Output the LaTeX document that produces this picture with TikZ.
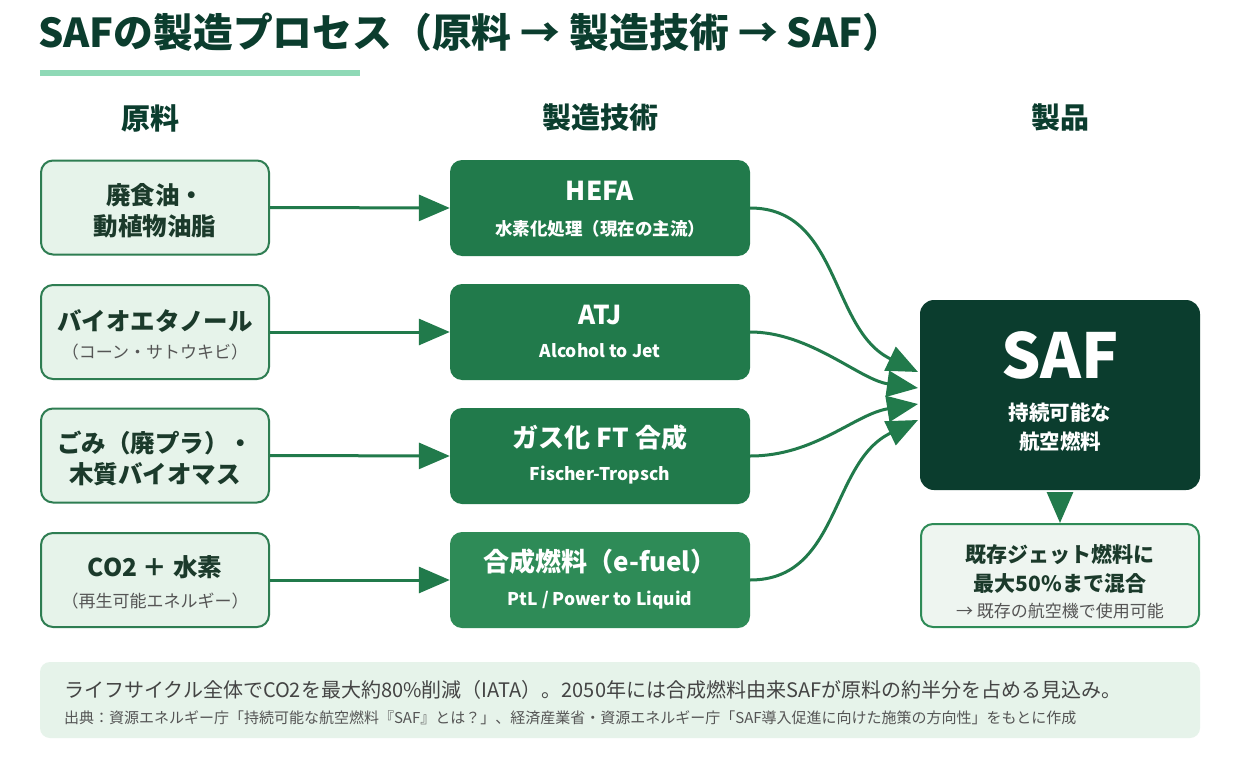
\documentclass[tikz,border=0pt]{standalone}
\usepackage{fontspec}
\setmainfont{Noto Sans CJK JP}
\usetikzlibrary{arrows.meta}
\definecolor{cdark}{HTML}{0B3D2E}
\definecolor{cmid}{HTML}{217A4B}
\definecolor{cmid2}{HTML}{2E8B57}
\definecolor{cborder}{HTML}{2E7D52}
\definecolor{clight}{HTML}{E6F3EA}
\definecolor{clight2}{HTML}{EEF5F0}
\definecolor{cline}{HTML}{8FD9B6}
\definecolor{ctext}{HTML}{1B3A2B}
\definecolor{cgray}{HTML}{555555}
\definecolor{cnote}{HTML}{444444}
\newcommand\myfs[1]{\fontsize{#1}{#1}\selectfont}
\tikzset{
  srcbox/.style={draw=cborder, line width=2pt, fill=clight, rounded corners=12pt,
    minimum width=228pt, minimum height=94pt, inner sep=0pt},
  techbox/.style={fill=cmid, rounded corners=12pt, minimum width=300pt, minimum height=96pt, inner sep=0pt},
  txt/.style={inner sep=0pt, outer sep=0pt, anchor=center},
  srcmain/.style={txt, text=ctext, font=\myfs{24.5}\bfseries},
  srcsub/.style={txt, text=cgray, font=\myfs{17}},
  techmain/.style={txt, text=white, font=\myfs{26}\bfseries},
  techsub/.style={txt, text=white, font=\myfs{17.5}\bfseries},
  flow/.style={draw=cmid, line width=3pt, -{Triangle[length=31pt,width=26pt]}},
  header/.style={txt, text=cdark, font=\myfs{29}\bfseries},
}
\begin{document}
\begin{tikzpicture}[x=1pt,y=-1pt]
\useasboundingbox[fill=white] (0,0) rectangle (1240,760);

% title
\node[txt, anchor=west, text=cdark, font=\myfs{39.8}\bfseries] (title) at (38,32) {SAFの製造プロセス（原料 → 製造技術 → SAF）};
\fill[cline] (40,70) rectangle (360,76);

% headers
\node[header] (h1) at (150,118) {原料};
\node[header] (h2) at (600,118) {製造技術};
\node[header] (h3) at (1060,118) {製品};

% source boxes
\node[srcbox] (s1) at (155,207.5) {};
\node[srcbox] (s2) at (155,332) {};
\node[srcbox] (s3) at (155,455.5) {};
\node[srcbox] (s4) at (155,580) {};
\node[srcmain] (s1a) at (155,195) {廃食油・};
\node[srcmain] (s1b) at (155,226) {動植物油脂};
\node[srcmain] (s2a) at (155,321) {バイオエタノール};
\node[srcsub]  (s2b) at (155,352) {（コーン・サトウキビ）};
\node[srcmain] (s3a) at (155,443) {ごみ（廃プラ）・};
\node[srcmain] (s3b) at (155,474) {木質バイオマス};
\node[srcmain] (s4a) at (155,567) {CO2 ＋ 水素};
\node[srcsub]  (s4b) at (155,601) {（再生可能エネルギー）};

% technology boxes
\node[techbox] (t1) at (600,208) {};
\node[techbox] (t2) at (600,332) {};
\node[techbox] (t3) at (600,456) {};
\node[techbox, fill=cmid2] (t4) at (600,580) {};
\node[techmain] (t1a) at (600,191) {HEFA};
\node[techsub]  (t1b) at (600,229) {水素化処理（現在の主流）};
\node[techmain] (t2a) at (600,315) {ATJ};
\node[techsub]  (t2b) at (600,351) {Alcohol to Jet};
\node[techmain] (t3a) at (600,438) {ガス化 FT 合成};
\node[techsub]  (t3b) at (600,475) {Fischer-Tropsch};
\node[techmain] (t4a) at (600,562) {合成燃料（e-fuel）};
\node[techsub]  (t4b) at (600,600) {PtL / Power to Liquid};

% SAF box
\node[fill=cdark, rounded corners=14pt, minimum width=280pt, minimum height=190pt, inner sep=0pt] (saf) at (1060,395) {};
\node[txt, text=white, font=\myfs{62}\bfseries] (safa) at (1060,355) {SAF};
\node[txt, text=white, font=\myfs{20.5}\bfseries] (safb) at (1060,413) {持続可能な};
\node[txt, text=white, font=\myfs{20.5}\bfseries] (safc) at (1060,442) {航空燃料};

% mix box
\node[draw=cmid2, line width=2pt, fill=clight2, rounded corners=12pt, minimum width=278pt, minimum height=103pt, inner sep=0pt] (mix) at (1060,575.5) {};
\node[txt, text=ctext, font=\myfs{21}\bfseries] (mixa) at (1060,555) {既存ジェット燃料に};
\node[txt, text=ctext, font=\myfs{21}\bfseries] (mixb) at (1060,584) {最大50\%まで混合};
\node[txt, text=cgray, font=\myfs{17}] (mixc) at (1060,611) {→ 既存の航空機で使用可能};

% note box
\node[fill=clight, rounded corners=10pt, minimum width=1160pt, minimum height=76pt, inner sep=0pt] (note) at (620,700) {};
\node[txt, anchor=west, text=cnote, font=\myfs{20}] (notea) at (64,690) {ライフサイクル全体でCO2を最大約80\%削減（IATA）。2050年には合成燃料由来SAFが原料の約半分を占める見込み。};
\node[txt, anchor=west, text=cgray, font=\myfs{15}] (noteb) at (64,718) {出典：資源エネルギー庁「持続可能な航空燃料『SAF』とは？」、経済産業省・資源エネルギー庁「SAF導入促進に向けた施策の方向性」をもとに作成};

% connectors left -> middle
\draw[flow] (s1.east) -- (t1.west);
\draw[flow] (s2.east) -- (t2.west);
\draw[flow] (s3.east) -- (t3.west);
\draw[flow] (s4.east) -- (t4.west);

% connectors middle -> SAF
\coordinate (in1) at (918,372);
\coordinate (in2) at (918,388);
\coordinate (in3) at (918,404);
\coordinate (in4) at (918,420);
\draw[flow] (t1.east) .. controls (840,208) and (830,330) .. (in1);
\draw[flow] (t2.east) .. controls (810,332) and (860,380) .. (in2);
\draw[flow] (t3.east) .. controls (815,456) and (855,414) .. (in3);
\draw[flow] (t4.east) .. controls (840,580) and (830,462) .. (in4);

% SAF -> mix
\draw[flow, shorten <=2pt] (saf.south) -- (mix.north);
\end{tikzpicture}
\end{document}
